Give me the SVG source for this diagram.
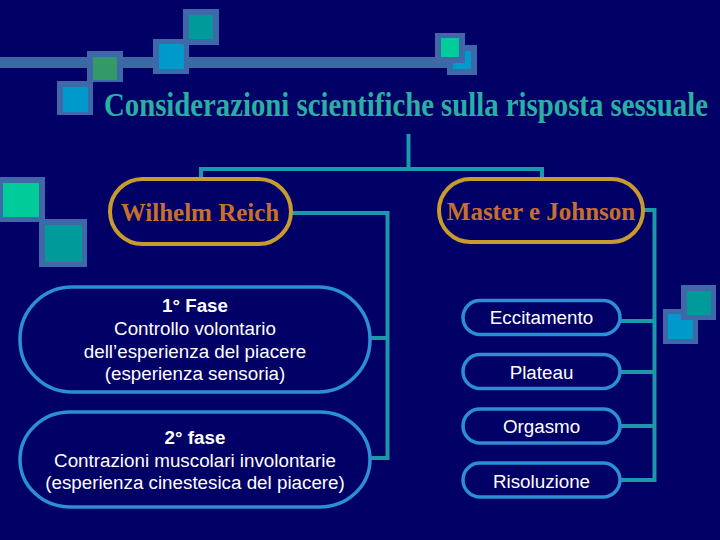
<svg xmlns="http://www.w3.org/2000/svg" width="720" height="540" viewBox="0 0 720 540">
<style>
.frame{fill:#3f68a8}
.teal{fill:#009a9a}
.green{fill:#339966}
.blue{fill:#0099cc}
.lgreen{fill:#00cc99}
.conn{fill:none;stroke:#1b98aa;stroke-width:4}
.gold{fill:#000066;stroke:#c99a2e;stroke-width:4}
.pill{fill:#000066;stroke:#2a8fd4;stroke-width:3.5}
.serif{font-family:"Liberation Serif","Times New Roman",serif;font-weight:bold}
.name{fill:#c8702a;font-size:25px}
.sans{font-family:"Liberation Sans",Arial,sans-serif;fill:#ffffff;font-size:18.8px;text-anchor:middle}
</style>
<rect x="0" y="0" width="720" height="540" fill="#000066"/>
<g id="decoration">
<rect x="0" y="57" width="450" height="11" fill="#3a6aa4"/>
<rect class="frame" x="57" y="81" width="36" height="34"/><rect class="blue" x="63" y="87" width="25" height="25"/>
<rect class="frame" x="87" y="51" width="36" height="31"/><rect class="green" x="93" y="57" width="24" height="23"/>
<rect class="frame" x="153" y="39" width="36" height="35"/><rect class="blue" x="159" y="44" width="25" height="25"/>
<rect class="frame" x="183" y="9" width="36" height="36"/><rect class="teal" x="189" y="15" width="24" height="24"/>
<rect class="frame" x="447" y="45" width="30" height="30"/><rect class="blue" x="453" y="51" width="18" height="18"/>
<rect class="frame" x="435" y="33" width="30" height="30"/><rect class="lgreen" x="441" y="38" width="18" height="19"/>
<rect class="frame" x="0" y="177" width="45" height="45"/><rect class="lgreen" x="3" y="183" width="36" height="34"/>
<rect class="frame" x="39" y="219" width="48" height="48"/><rect class="teal" x="45" y="225" width="37" height="37"/>
<rect class="frame" x="663" y="309" width="35" height="35"/><rect class="blue" x="668" y="314" width="25" height="25"/>
<rect class="frame" x="681" y="285" width="35" height="35"/><rect class="teal" x="687" y="291" width="24" height="24"/>
</g>
<g id="title">
<text class="serif" x="104" y="116" font-size="29" fill="#2ab0a2" textLength="604" lengthAdjust="spacingAndGlyphs" transform="matrix(1,0,0,1.14,0,-16.24)">Considerazioni scientifiche sulla risposta sessuale</text>
</g>
<g id="connectors">
<path class="conn" d="M408.5,134 V169" stroke-width="3.5"/>
<path class="conn" d="M201,180 V169 H542 V180" stroke-width="3.5"/>
<path class="conn" d="M291,213 H387.5 V458 H368 M368,338 H387.5"/>
<path class="conn" d="M643,210 H654.5 V480 H620 M620,321 H654.5 M620,372 H654.5 M620,426 H654.5"/>
</g>
<g id="reich">
<rect class="gold" x="110" y="179" width="181" height="65" rx="32.5"/>
<text class="serif name" x="200" y="221" text-anchor="middle">Wilhelm Reich</text>
</g>
<g id="master">
<rect class="gold" x="439" y="179" width="204" height="63" rx="31.5"/>
<text class="serif name" x="541" y="220" text-anchor="middle">Master e Johnson</text>
</g>
<g id="fase1">
<rect class="pill" x="20" y="287" width="350" height="105" rx="52" ry="52"/>
<text class="sans" x="195" y="312" font-weight="bold">1° Fase</text>
<text class="sans" x="195" y="335">Controllo volontario</text>
<text class="sans" x="195" y="357.5">dell’esperienza del piacere</text>
<text class="sans" x="195" y="380">(esperienza sensoria)</text>
</g>
<g id="fase2">
<rect class="pill" x="20" y="412" width="350" height="95" rx="50" ry="47.5"/>
<text class="sans" x="195" y="444" font-weight="bold">2° fase</text>
<text class="sans" x="195" y="466.5">Contrazioni muscolari involontarie</text>
<text class="sans" x="195" y="489">(esperienza cinestesica del piacere)</text>
</g>
<g id="eccitamento">
<rect class="pill" x="463" y="300.5" width="157" height="34" rx="17"/>
<text class="sans" x="541.5" y="324">Eccitamento</text>
</g>
<g id="plateau">
<rect class="pill" x="463" y="354.5" width="157" height="34" rx="17"/>
<text class="sans" x="541.5" y="379">Plateau</text>
</g>
<g id="orgasmo">
<rect class="pill" x="463" y="409" width="157" height="34" rx="17"/>
<text class="sans" x="541.5" y="433">Orgasmo</text>
</g>
<g id="risoluzione">
<rect class="pill" x="463" y="463" width="157" height="34" rx="17"/>
<text class="sans" x="541.5" y="487.5">Risoluzione</text>
</g>
</svg>
